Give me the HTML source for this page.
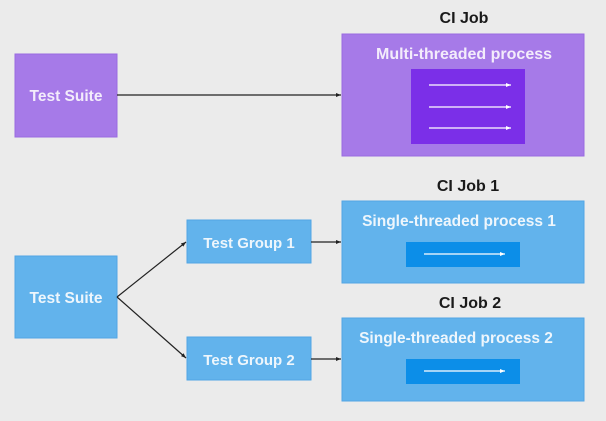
<!DOCTYPE html>
<html><head><meta charset="utf-8"><style>
html,body{margin:0;padding:0;background:#ebebeb;}
svg{display:block;}
text{font-family:"Liberation Sans",sans-serif;font-weight:bold;}
</style></head><body>
<svg width="606" height="421" viewBox="0 0 606 421" xmlns="http://www.w3.org/2000/svg">
<rect width="606" height="421" fill="#ebebeb"/>
<defs>
<marker id="ak" markerWidth="6" markerHeight="6" refX="5" refY="3" orient="auto" markerUnits="userSpaceOnUse"><path d="M0,1 L5,3 L0,5 z" fill="#222"/></marker>
<marker id="aw" markerWidth="6" markerHeight="6" refX="5" refY="3" orient="auto" markerUnits="userSpaceOnUse"><path d="M0,1 L5,3 L0,5 z" fill="#fff"/></marker>
</defs>
<!-- Top -->
<rect x="15" y="54" width="102" height="83" fill="#a67ae8" stroke="#9a6be0"/>
<text x="66" y="101" fill="#f3ecfb" font-size="15.5" text-anchor="middle">Test Suite</text>
<line x1="117" y1="95" x2="341" y2="95" stroke="#222" stroke-width="1.2" marker-end="url(#ak)"/>
<text x="464" y="23" fill="#1a1a1a" font-size="16" text-anchor="middle">CI Job</text>
<rect x="342" y="34" width="242" height="122" fill="#a67ae8" stroke="#9a6be0"/>
<text x="464" y="59" fill="#f3ecfb" font-size="16" text-anchor="middle">Multi-threaded process</text>
<rect x="411" y="69" width="114" height="75" fill="#7b2fe8"/>
<line x1="429" y1="85" x2="511" y2="85" stroke="#fff" stroke-width="1.2" marker-end="url(#aw)"/>
<line x1="429" y1="107" x2="511" y2="107" stroke="#fff" stroke-width="1.2" marker-end="url(#aw)"/>
<line x1="429" y1="128" x2="511" y2="128" stroke="#fff" stroke-width="1.2" marker-end="url(#aw)"/>
<!-- Bottom -->
<rect x="15" y="256" width="102" height="82" fill="#62b3ec" stroke="#52a6e4"/>
<text x="66" y="303" fill="#eef6fc" font-size="15.5" text-anchor="middle">Test Suite</text>
<line x1="117" y1="297" x2="186" y2="242" stroke="#222" stroke-width="1.2" marker-end="url(#ak)"/>
<line x1="117" y1="297" x2="186" y2="358" stroke="#222" stroke-width="1.2" marker-end="url(#ak)"/>
<rect x="187" y="220" width="124" height="43" fill="#62b3ec" stroke="#52a6e4"/>
<text x="249" y="248" fill="#eef6fc" font-size="15" text-anchor="middle">Test Group 1</text>
<rect x="187" y="337" width="124" height="43" fill="#62b3ec" stroke="#52a6e4"/>
<text x="249" y="365" fill="#eef6fc" font-size="15" text-anchor="middle">Test Group 2</text>
<line x1="311" y1="242" x2="341" y2="242" stroke="#222" stroke-width="1.2" marker-end="url(#ak)"/>
<line x1="311" y1="359" x2="341" y2="359" stroke="#222" stroke-width="1.2" marker-end="url(#ak)"/>
<text x="468" y="191" fill="#1a1a1a" font-size="16" text-anchor="middle">CI Job 1</text>
<rect x="342" y="201" width="242" height="82" fill="#62b3ec" stroke="#52a6e4"/>
<text x="459" y="226" fill="#eef6fc" font-size="15.5" text-anchor="middle">Single-threaded process 1</text>
<rect x="406" y="242" width="114" height="25" fill="#0c8ee8"/>
<line x1="424" y1="254" x2="505" y2="254" stroke="#fff" stroke-width="1.2" marker-end="url(#aw)"/>
<text x="470" y="308" fill="#1a1a1a" font-size="16" text-anchor="middle">CI Job 2</text>
<rect x="342" y="318" width="242" height="83" fill="#62b3ec" stroke="#52a6e4"/>
<text x="456" y="343" fill="#eef6fc" font-size="15.5" text-anchor="middle">Single-threaded process 2</text>
<rect x="406" y="359" width="114" height="25" fill="#0c8ee8"/>
<line x1="424" y1="371" x2="505" y2="371" stroke="#fff" stroke-width="1.2" marker-end="url(#aw)"/>
</svg>
</body></html>
